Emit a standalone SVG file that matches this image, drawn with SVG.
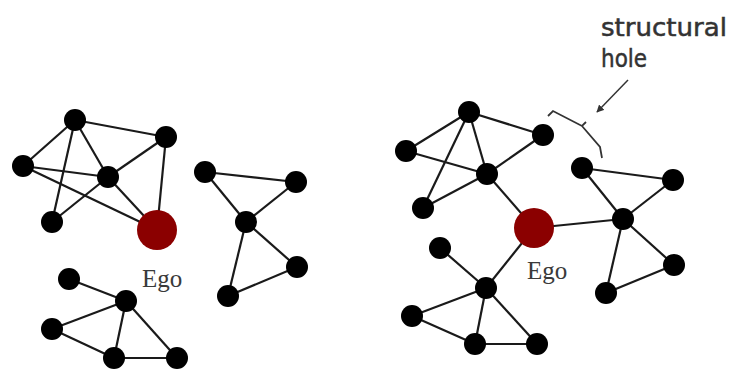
<svg xmlns="http://www.w3.org/2000/svg" width="730" height="370" viewBox="0 0 730 370">
<defs>
<style>
.e{stroke:#1a1a1a;stroke-width:2.2;fill:none}
.n{fill:#000}
.ego{fill:#8b0000}
.lbl{font-family:"Liberation Serif","Times New Roman",serif;font-size:25px;fill:#3a3a3a}
.ann{font-family:"DejaVu Sans","Liberation Sans",sans-serif;font-size:24px;fill:#333;stroke:#333;stroke-width:0.5}
.br{stroke:#333;stroke-width:1.8;fill:none}
</style>
<marker id="ah" viewBox="0 0 10 10" refX="9" refY="5" markerWidth="5" markerHeight="5" orient="auto-start-reverse">
<path d="M0,0 L10,5 L0,10 z" fill="#333"/>
</marker>
</defs>
<rect width="730" height="370" fill="#fff"/>
<g id="connectors">
<line class="e" x1="75" y1="120" x2="23" y2="166"/>
<line class="e" x1="75" y1="120" x2="166" y2="137"/>
<line class="e" x1="75" y1="120" x2="108" y2="177"/>
<line class="e" x1="75" y1="120" x2="52" y2="222"/>
<line class="e" x1="23" y1="166" x2="108" y2="177"/>
<line class="e" x1="23" y1="166" x2="157" y2="230"/>
<line class="e" x1="108" y1="177" x2="166" y2="137"/>
<line class="e" x1="108" y1="177" x2="52" y2="222"/>
<line class="e" x1="108" y1="177" x2="157" y2="230"/>
<line class="e" x1="166" y1="137" x2="157" y2="230"/>
<line class="e" x1="205" y1="172" x2="296" y2="182"/>
<line class="e" x1="205" y1="172" x2="246" y2="222"/>
<line class="e" x1="296" y1="182" x2="246" y2="222"/>
<line class="e" x1="246" y1="222" x2="297" y2="267"/>
<line class="e" x1="246" y1="222" x2="228" y2="296"/>
<line class="e" x1="297" y1="267" x2="228" y2="296"/>
<line class="e" x1="69" y1="279" x2="126" y2="301"/>
<line class="e" x1="126" y1="301" x2="52" y2="329"/>
<line class="e" x1="126" y1="301" x2="114" y2="358"/>
<line class="e" x1="126" y1="301" x2="177" y2="358"/>
<line class="e" x1="52" y1="329" x2="114" y2="358"/>
<line class="e" x1="114" y1="358" x2="177" y2="358"/>
<line class="e" x1="406" y1="151" x2="469" y2="112"/>
<line class="e" x1="469" y1="112" x2="543" y2="135"/>
<line class="e" x1="469" y1="112" x2="487" y2="174"/>
<line class="e" x1="469" y1="112" x2="423" y2="208"/>
<line class="e" x1="406" y1="151" x2="487" y2="174"/>
<line class="e" x1="487" y1="174" x2="543" y2="135"/>
<line class="e" x1="487" y1="174" x2="423" y2="208"/>
<line class="e" x1="487" y1="174" x2="534" y2="228"/>
<line class="e" x1="534" y1="228" x2="623" y2="219"/>
<line class="e" x1="534" y1="228" x2="486" y2="288"/>
<line class="e" x1="582" y1="168" x2="673" y2="180"/>
<line class="e" x1="582" y1="168" x2="623" y2="219"/>
<line class="e" x1="673" y1="180" x2="623" y2="219"/>
<line class="e" x1="623" y1="219" x2="674" y2="265"/>
<line class="e" x1="623" y1="219" x2="606" y2="293"/>
<line class="e" x1="674" y1="265" x2="606" y2="293"/>
<line class="e" x1="440" y1="248" x2="486" y2="288"/>
<line class="e" x1="486" y1="288" x2="412" y2="316"/>
<line class="e" x1="486" y1="288" x2="475" y2="344"/>
<line class="e" x1="486" y1="288" x2="537" y2="344"/>
<line class="e" x1="412" y1="316" x2="475" y2="344"/>
<line class="e" x1="475" y1="344" x2="537" y2="344"/>
<line x1="628" y1="80" x2="597" y2="112" stroke="#333" stroke-width="1.5" marker-end="url(#ah)"/>
<path class="br" d="M548,116 L553,111 L582,126 L586,122 M582,126 L600,147 L602,158"/>
</g>
<g id="node-left-ego"><circle class="ego" cx="157" cy="230" r="20"/><text class="lbl" x="142" y="287">Ego</text></g>
<g id="node-l1"><circle class="n" cx="75" cy="120" r="11"/></g>
<g id="node-l2"><circle class="n" cx="166" cy="137" r="11"/></g>
<g id="node-l3"><circle class="n" cx="23" cy="166" r="11"/></g>
<g id="node-l4"><circle class="n" cx="108" cy="177" r="11"/></g>
<g id="node-l5"><circle class="n" cx="52" cy="222" r="11"/></g>
<g id="node-l6"><circle class="n" cx="205" cy="172" r="11"/></g>
<g id="node-l7"><circle class="n" cx="296" cy="182" r="11"/></g>
<g id="node-l8"><circle class="n" cx="246" cy="222" r="11"/></g>
<g id="node-l9"><circle class="n" cx="297" cy="267" r="11"/></g>
<g id="node-l10"><circle class="n" cx="228" cy="296" r="11"/></g>
<g id="node-l11"><circle class="n" cx="69" cy="279" r="11"/></g>
<g id="node-l12"><circle class="n" cx="126" cy="301" r="11"/></g>
<g id="node-l13"><circle class="n" cx="52" cy="329" r="11"/></g>
<g id="node-l14"><circle class="n" cx="114" cy="358" r="11"/></g>
<g id="node-l15"><circle class="n" cx="177" cy="358" r="11"/></g>
<g id="node-right-ego"><circle class="ego" cx="534" cy="228" r="20"/><text class="lbl" x="527" y="279">Ego</text></g>
<g id="node-r1"><circle class="n" cx="469" cy="112" r="11"/></g>
<g id="node-r2"><circle class="n" cx="543" cy="135" r="11"/></g>
<g id="node-r3"><circle class="n" cx="406" cy="151" r="11"/></g>
<g id="node-r4"><circle class="n" cx="487" cy="174" r="11"/></g>
<g id="node-r5"><circle class="n" cx="423" cy="208" r="11"/></g>
<g id="node-r6"><circle class="n" cx="582" cy="168" r="11"/></g>
<g id="node-r7"><circle class="n" cx="673" cy="180" r="11"/></g>
<g id="node-r8"><circle class="n" cx="623" cy="219" r="11"/></g>
<g id="node-r9"><circle class="n" cx="674" cy="265" r="11"/></g>
<g id="node-r10"><circle class="n" cx="606" cy="293" r="11"/></g>
<g id="node-r11"><circle class="n" cx="440" cy="248" r="11"/></g>
<g id="node-r12"><circle class="n" cx="486" cy="288" r="11"/></g>
<g id="node-r13"><circle class="n" cx="412" cy="316" r="11"/></g>
<g id="node-r14"><circle class="n" cx="475" cy="344" r="11"/></g>
<g id="node-r15"><circle class="n" cx="537" cy="344" r="11"/></g>
<g id="annotation">
<text class="ann" x="601" y="36" textLength="126" lengthAdjust="spacingAndGlyphs">structural</text>
<text class="ann" x="601" y="67" textLength="46" lengthAdjust="spacingAndGlyphs">hole</text>
</g>
</svg>
